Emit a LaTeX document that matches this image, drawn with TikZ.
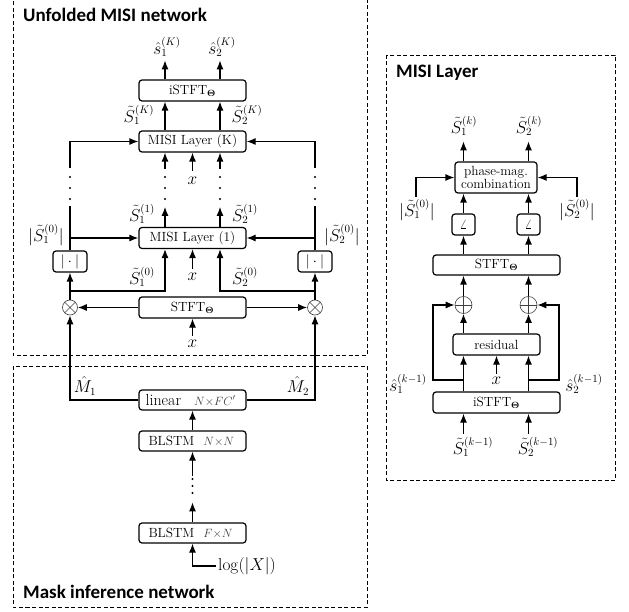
\documentclass[tikz,border=0pt]{standalone}
\usepackage[no-math]{fontspec}
\newfontfamily\titlefont{Carlito}
\usetikzlibrary{arrows.meta,calc}
\newcommand{\dimlab}[1]{{\color{black!75}\fontsize{12.3}{14}\selectfont$#1$}}
\begin{document}
\begin{tikzpicture}[x=1pt,y=-1pt,
 every node/.style={font=\fontsize{13.3}{15}\selectfont, inner sep=0pt},
 lab/.style={font=\fontsize{16.3}{18}\selectfont},
 box/.style={draw, rounded corners=3pt, line width=1.2pt, minimum height=21pt},
 wide/.style={box, minimum width=107pt},
 rwide/.style={box, minimum width=127pt, minimum height=20pt},
 small/.style={box, minimum width=34pt},
 arr/.style={line width=1.2pt, -{Latex[length=9pt,width=7pt]}},
 ln/.style={line width=1.2pt},
 frame/.style={line width=0.8pt, dash pattern=on 4pt off 2.5pt},
 op/.style={draw, circle, minimum size=15pt, line width=0.6pt, black!75},
 ttl/.style={font=\titlefont\bfseries\fontsize{19}{22}\selectfont, anchor=west}
]
\useasboundingbox (0,0) rectangle (629,612);
% frames
\draw[frame] (13,-5) rectangle (367,355);
\draw[frame] (13,366) rectangle (367,607);
\draw[frame] (386,55) rectangle (615,480);
\node[ttl] (t1) at (23,15) {Unfolded MISI network};
\node[ttl] (t2) at (23,592) {Mask inference network};
\node[ttl] (t3) at (396,73) {MISI Layer};
% columns
\coordinate (cL) at (70,0);
\coordinate (ca) at (165,0);
\coordinate (cm) at (192.5,0);
\coordinate (cb) at (220,0);
\coordinate (cR) at (315,0);
% ---- unfolded network
\node[wide] (istft) at (192.5,90.5) {iSTFT$_{\mathbf{\Theta}}$};
\node[lab] (sh1) at (167,47) {$\hat s_1^{(K)}$};
\node[lab] (sh2) at (222,47) {$\hat s_2^{(K)}$};
\draw[arr] (istft.north -| ca) -- ++(0,-19);
\draw[arr] (istft.north -| cb) -- ++(0,-19);
\node[wide] (misiK) at (192.5,141.5) {MISI Layer (K)};
\node[lab] (SK1) at (139,115) {$\tilde S_1^{(K)}$};
\node[lab] (SK2) at (247,115) {$\tilde S_2^{(K)}$};
\draw[arr] (misiK.north -| ca) -- (istft.south -| ca);
\draw[arr] (misiK.north -| cb) -- (istft.south -| cb);
\node[lab] (xK) at (192.5,181) {$x$};
\draw[arr] ($(misiK.south)+(0,18)$) -- (misiK.south);
\draw[arr] ($(misiK.south -| ca)+(0,16)$) -- (misiK.south -| ca);
\draw[arr] ($(misiK.south -| cb)+(0,16)$) -- (misiK.south -| cb);
\foreach \cx in {70,165,220,315}{
  \foreach \cy in {177,188,199}{\fill (\cx,\cy) circle (1.1pt);}
}
\node[wide] (misi1) at (192.5,238) {MISI Layer (1)};
\node[lab] (S11) at (142,214) {$\tilde S_1^{(1)}$};
\node[lab] (S12) at (245,214) {$\tilde S_2^{(1)}$};
\draw[arr] (misi1.north -| ca) -- ++(0,-20);
\draw[arr] (misi1.north -| cb) -- ++(0,-20);
\node[small] (abs1) at (70,261.5) {$|\cdot|$};
\node[small] (abs2) at (315,261.5) {$|\cdot|$};
\node[lab] (A1) at (46,235) {$|\tilde S_1^{(0)}|$};
\node[lab] (A2) at (342,235) {$|\tilde S_2^{(0)}|$};
\draw[arr] ($(misiK.west -| cL)+(0,27)$) |- (misiK.west);
\draw[arr] ($(misiK.east -| cR)+(0,27)$) |- (misiK.east);
\draw[ln] (abs1.north) -- (70,206);
\draw[ln] (abs2.north) -- (315,206);
\draw[arr] (abs1.north) |- (misi1.west);
\draw[arr] (abs2.north) |- (misi1.east);
\node[wide] (stft) at (192.5,307.5) {STFT$_{\mathbf{\Theta}}$};
\node[op] (ot1) at (70,307.5) {\phantom{.}};
\node[op] (ot2) at (315,307.5) {\phantom{.}};
\draw[line width=0.6pt, black!75] (ot1.45) -- (ot1.225) (ot1.135) -- (ot1.315);
\draw[line width=0.6pt, black!75] (ot2.45) -- (ot2.225) (ot2.135) -- (ot2.315);
\draw[arr] (ot1.north) -- (abs1.south);
\draw[arr] (ot2.north) -- (abs2.south);
\draw[arr] (70,291) -| (misi1.south -| ca);
\draw[arr] (315,291) -| (misi1.south -| cb);
\node[lab] (S01) at (142,277) {$\tilde S_1^{(0)}$};
\node[lab] (S02) at (245,277) {$\tilde S_2^{(0)}$};
\node[lab] (x1) at (192.5,277) {$x$};
\draw[arr] ($(misi1.south)+(0,20)$) -- (misi1.south);
\draw[arr] (stft.west) -- (ot1.east);
\draw[arr] (stft.east) -- (ot2.west);
\node[lab] (x0) at (192.5,344) {$x$};
\draw[arr] ($(stft.south)+(0,17)$) -- (stft.south);
% ---- mask inference
\node[wide, minimum height=20pt] (lin) at (192.5,400) {\makebox[94pt][l]{{\fontsize{16}{18}\selectfont linear}\hspace{13pt}\dimlab{N{\times}FC'}}};
\draw[arr] (lin.west) -| (ot1.south);
\draw[arr] (lin.east) -| (ot2.south);
\node[lab] (M1) at (85,386) {$\hat M_1$};
\node[lab] (M2) at (298,386) {$\hat M_2$};
\node[wide, minimum height=20pt] (bl2) at (192.5,441) {\makebox[88pt][l]{BLSTM\hspace{9pt}\dimlab{N{\times}N}}};
\draw[arr] (bl2.north) -- (lin.south);
\draw[arr] ($(bl2.south)+(0,24)$) -- (bl2.south);
\foreach \cy in {479,486,493}{\fill (192.5,\cy) circle (1.1pt);}
\node[wide, minimum height=20pt] (bl1) at (192.5,533) {\makebox[88pt][l]{BLSTM\hspace{9pt}\dimlab{F{\times}N}}};
\draw[arr] (bl1.north) -- ++(0,-20);
\node[lab, anchor=west] (lg) at (218,566) {$\log(|X|)$};
\draw[arr] ([xshift=-2pt]lg.west) -| (bl1.south);
% ---- MISI layer detail
\node[box, minimum width=82pt, minimum height=31pt, align=center, font=\fontsize{13.3}{12.5}\selectfont] (pm) at (496,177.5) {phase-mag.\\combination};
\coordinate (ra) at (463.5,0);
\coordinate (rb) at (528.5,0);
\node[lab] (Sk1) at (464,126) {$\tilde S_1^{(k)}$};
\node[lab] (Sk2) at (529,126) {$\tilde S_2^{(k)}$};
\draw[arr] (pm.north -| ra) -- ++(0,-20);
\draw[arr] (pm.north -| rb) -- ++(0,-20);
\node[lab] (B1) at (417,210) {$|\tilde S_1^{(0)}|$};
\node[lab] (B2) at (577,210) {$|\tilde S_2^{(0)}|$};
\draw[arr] (416,197) |- (pm.west);
\draw[arr] (577,197) |- (pm.east);
\node[box, minimum width=23pt] (an1) at (463.5,224.5) {$\angle$};
\node[box, minimum width=23pt] (an2) at (528.5,224.5) {$\angle$};
\draw[arr] (an1.north) -- (pm.south -| ra);
\draw[arr] (an2.north) -- (pm.south -| rb);
\node[rwide] (rstft) at (496.5,265) {STFT$_{\mathbf{\Theta}}$};
\draw[arr] (rstft.north -| ra) -- (an1.south);
\draw[arr] (rstft.north -| rb) -- (an2.south);
\node[op, minimum size=17pt] (op1) at (463.5,305) {\phantom{.}};
\node[op, minimum size=17pt] (op2) at (528.5,305) {\phantom{.}};
\draw[line width=0.6pt, black!75] (op1.north) -- (op1.south) (op1.west) -- (op1.east);
\draw[line width=0.6pt, black!75] (op2.north) -- (op2.south) (op2.west) -- (op2.east);
\draw[arr] (op1.north) -- (rstft.south -| ra);
\draw[arr] (op2.north) -- (rstft.south -| rb);
\node[box, minimum width=87pt] (res) at (496.5,344.5) {residual};
\draw[arr] (res.north -| ra) -- (op1.south);
\draw[arr] (res.north -| rb) -- (op2.south);
\node[rwide, minimum height=21pt] (ristft) at (496.5,402.5) {iSTFT$_{\mathbf{\Theta}}$};
\draw[arr] (ristft.north -| ra) -- (res.south -| ra);
\draw[arr] (ristft.north -| rb) -- (res.south -| rb);
\node[lab] (rx) at (496.5,381) {$x$};
\draw[arr] ($(res.south)+(0,18)$) -- (res.south);
\draw[arr] (463.5,380) -| (433,305) -- (op1.west);
\draw[arr] (528.5,380) -| (559,305) -- (op2.east);
\node[lab] (h1) at (408,384) {$\hat s_1^{(k-1)}$};
\node[lab] (h2) at (584,384) {$\hat s_2^{(k-1)}$};
\node[lab] (Sm1) at (473,447) {$\tilde S_1^{(k-1)}$};
\node[lab] (Sm2) at (538,447) {$\tilde S_2^{(k-1)}$};
\draw[arr] ($(ristft.south -| ra)+(0,20)$) -- (ristft.south -| ra);
\draw[arr] ($(ristft.south -| rb)+(0,20)$) -- (ristft.south -| rb);
\end{tikzpicture}
\end{document}
